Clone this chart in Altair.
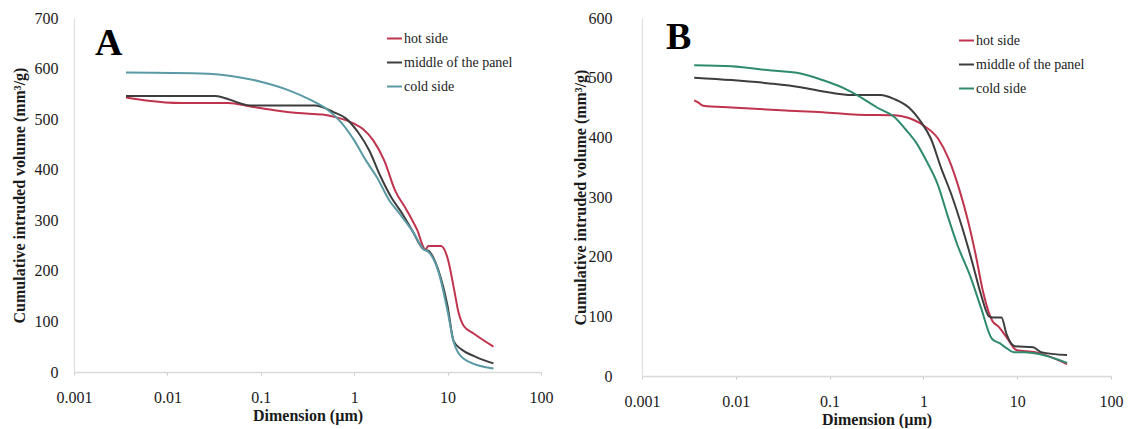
import altair as alt
import pandas as pd

FONT = "Times New Roman, Liberation Serif, serif"

series_names = ["hot side", "middle of the panel", "cold side"]
panel_labels = ["A", "B"]
x_ticks = [0.001, 0.01, 0.1, 1, 10, 100]
y_ticks_a = [0, 100, 200, 300, 400, 500, 600, 700]
y_ticks_b = [0, 100, 200, 300, 400, 500, 600]

colors_a = ["#c0334d", "#3d3d3d", "#5a9aa5"]
colors_b = ["#c0334d", "#3d3d3d", "#2e8b6f"]

# ---- Panel A ----
a_hot_x = [0.0036, 0.0059, 0.0144, 0.045, 0.078, 0.16, 0.25, 0.46, 0.66, 1.0, 1.23, 1.6,
           2.1, 2.75, 3.6, 4.7, 5.8, 6.2, 8.5, 10.0, 11.8, 13.0, 14.9, 19.0, 31.0]
a_hot_y = [543, 537, 532, 532, 525, 516, 512, 509, 503, 491, 481, 458,
           418, 358, 322, 282, 242, 249, 249, 225, 161, 120, 91, 76, 50]

a_mid_x = [0.0036, 0.032, 0.078, 0.38, 0.6, 0.82, 1.1, 1.45, 1.9, 2.5, 3.3, 4.2, 5.6,
           6.2, 8.0, 10.0, 11.6, 14.0, 20.0, 31.0]
a_mid_y = [546, 546, 527, 527, 514, 501, 474, 438, 388, 345, 312, 279, 242,
           240, 200, 130, 61, 45, 30, 17]

a_cold_x = [0.0036, 0.027, 0.05, 0.1, 0.2, 0.35, 0.5, 0.72, 1.0, 1.34, 1.75, 2.4, 3.0,
            4.2, 5.6, 6.2, 8.0, 10.0, 11.6, 13.0, 17.0, 31.0]
a_cold_y = [592, 590, 585, 574, 557, 537, 521, 494, 458, 418, 385, 338, 315,
            279, 242, 238, 198, 120, 60, 38, 20, 7]

# ---- Panel B ----
b_hot_x = [0.0036, 0.004, 0.0045, 0.009, 0.034, 0.084, 0.2, 0.49, 0.64, 1.0, 1.43, 1.86,
           2.4, 3.0, 3.6, 4.3, 5.4, 6.4, 7.7, 9.9, 15.6, 34.0]
b_hot_y = [462, 458, 453, 450, 445, 442, 438, 437, 434, 420, 398, 364,
           314, 259, 204, 143, 93, 82, 65, 43, 40, 20]

b_mid_x = [0.0036, 0.009, 0.024, 0.049, 0.1, 0.17, 0.35, 0.49, 0.7, 0.95, 1.2, 1.55,
           2.0, 2.6, 3.3, 4.1, 5.0, 5.5, 6.8, 7.7, 9.4, 14.8, 18.0, 34.0]
b_mid_y = [500, 496, 490, 484, 475, 471, 471, 464, 450, 425, 398, 348,
           303, 248, 192, 137, 100, 98, 98, 70, 50, 48, 40, 35]

b_cold_x = [0.0036, 0.009, 0.024, 0.049, 0.084, 0.143, 0.2, 0.32, 0.49, 0.64, 0.83, 1.09,
            1.43, 1.8, 2.3, 3.2, 4.1, 5.4, 6.5, 7.5, 9.2, 12.0, 17.0, 34.0]
b_cold_y = [521, 519, 512, 507, 496, 482, 470, 450, 434, 414, 392, 359,
            320, 270, 220, 165, 115, 62, 55, 48, 40, 40, 37, 22]


def make_frame(groups):
    rows = []
    for name, xs, ys in groups:
        for i, (xv, yv) in enumerate(zip(xs, ys)):
            rows.append({"series": name, "d": xv, "v": yv, "o": i})
    return pd.DataFrame(rows)


df_a = make_frame([(series_names[0], a_hot_x, a_hot_y),
                   (series_names[1], a_mid_x, a_mid_y),
                   (series_names[2], a_cold_x, a_cold_y)])
df_b = make_frame([(series_names[0], b_hot_x, b_hot_y),
                   (series_names[1], b_mid_x, b_mid_y),
                   (series_names[2], b_cold_x, b_cold_y)])


def panel(df, ymax, yticks, colors, letter, w, h, lab_pad, title_x, leg_x, leg_y, let_x, let_y):
    x_axis = alt.Axis(values=x_ticks, format=".3~f", labelFlush=False, grid=False,
                      domainColor="#d9d9d9", domainWidth=1.5, tickColor="#c8c8c8",
                      tickSize=3, labelPadding=14, labelFont=FONT, labelFontSize=16,
                      labelColor="#1a1a1a", title="Dimension (µm)", titleFont=FONT,
                      titleFontSize=16, titleFontWeight="bold", titleColor="#1a1a1a",
                      titlePadding=2, labelOverlap=False)
    y_axis = alt.Axis(values=yticks, grid=False, ticks=False, domainColor="#e0e0e0",
                      domainWidth=1.2, labelPadding=lab_pad, labelFont=FONT,
                      labelFontSize=16, labelColor="#1a1a1a",
                      title="Cumulative intruded volume (mm³/g)", titleFont=FONT,
                      titleFontSize=16, titleFontWeight="bold", titleColor="#1a1a1a",
                      titleX=title_x, titleBaseline="middle")
    lines = alt.Chart(df).mark_line(strokeWidth=2, interpolate="monotone").encode(
        x=alt.X("d:Q", scale=alt.Scale(type="log", domain=[0.001, 100]), axis=x_axis),
        y=alt.Y("v:Q", scale=alt.Scale(domain=[0, ymax]), axis=y_axis),
        color=alt.Color("series:N",
                        scale=alt.Scale(domain=series_names, range=colors),
                        legend=alt.Legend(title=None, orient="none", legendX=leg_x,
                                          legendY=leg_y, symbolType="stroke",
                                          symbolSize=225, symbolStrokeWidth=2,
                                          labelFont=FONT, labelFontSize=14,
                                          labelColor="#1a1a1a", rowPadding=8,
                                          labelOffset=1, padding=0)),
        order="o:Q",
    )
    txt = alt.Chart(pd.DataFrame({"t": [letter]})).mark_text(
        font=FONT, fontSize=38, fontWeight="bold", align="left", baseline="alphabetic",
        color="#000000"
    ).encode(x=alt.value(let_x), y=alt.value(let_y), text="t:N")
    return alt.layer(lines, txt).properties(width=w, height=h)


pa = panel(df_a, 700, y_ticks_a, colors_a, panel_labels[0], 467, 354, 16, -55, 312, 12, 21, 37)
pb = panel(df_b, 600, y_ticks_b, colors_b, panel_labels[1], 469, 358, 30, -62, 316, 14, 24, 31)

chart = alt.hconcat(pa, pb, spacing=17).resolve_scale(
    x="independent", y="independent", color="independent"
).properties(
    padding={"left": 10, "top": 9, "right": 0, "bottom": 0},
    background="white",
).configure_view(stroke="transparent")

chart.save("out.html", embed_options={"renderer": "svg", "actions": False})
